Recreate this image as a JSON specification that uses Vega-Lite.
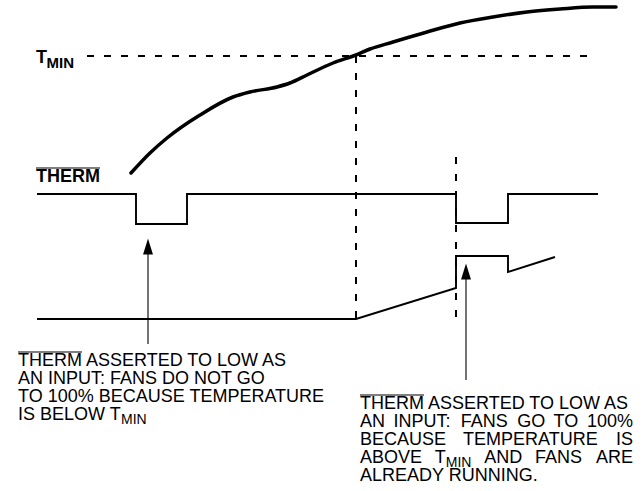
{
  "$schema": "https://vega.github.io/schema/vega-lite/v6.json",
  "width": 643,
  "height": 491,
  "autosize": {"type": "fit", "contains": "padding"},
  "padding": 0,
  "background": "white",
  "config": {"view": {"stroke": null}},
  "datasets": {
    "curve": [
      {"x": 131, "y": 173}, {"x": 150, "y": 153}, {"x": 167, "y": 138}, {"x": 200, "y": 115},
      {"x": 233, "y": 97}, {"x": 250, "y": 92}, {"x": 277, "y": 87}, {"x": 290, "y": 83},
      {"x": 307, "y": 75}, {"x": 333, "y": 63}, {"x": 356, "y": 55}, {"x": 370, "y": 49},
      {"x": 393, "y": 42}, {"x": 427, "y": 32}, {"x": 460, "y": 23}, {"x": 493, "y": 17},
      {"x": 527, "y": 12}, {"x": 560, "y": 9}, {"x": 593, "y": 7}, {"x": 616, "y": 7}
    ],
    "dashed": [
      {"x": 87, "y": 56, "x2": 597, "y2": 56},
      {"x": 356, "y": 56, "x2": 356, "y2": 319},
      {"x": 456, "y": 157, "x2": 456, "y2": 319}
    ],
    "signals": [
      {"s": "therm", "i": 0, "x": 37, "y": 194}, {"s": "therm", "i": 1, "x": 136, "y": 194},
      {"s": "therm", "i": 2, "x": 136, "y": 224}, {"s": "therm", "i": 3, "x": 187, "y": 224},
      {"s": "therm", "i": 4, "x": 187, "y": 194}, {"s": "therm", "i": 5, "x": 456, "y": 194},
      {"s": "therm", "i": 6, "x": 456, "y": 223}, {"s": "therm", "i": 7, "x": 508, "y": 223},
      {"s": "therm", "i": 8, "x": 508, "y": 194}, {"s": "therm", "i": 9, "x": 598, "y": 194},
      {"s": "fan", "i": 0, "x": 37, "y": 319}, {"s": "fan", "i": 1, "x": 356, "y": 319},
      {"s": "fan", "i": 2, "x": 456, "y": 288}, {"s": "fan", "i": 3, "x": 456, "y": 256},
      {"s": "fan", "i": 4, "x": 508, "y": 256}, {"s": "fan", "i": 5, "x": 508, "y": 272},
      {"s": "fan", "i": 6, "x": 555, "y": 257}
    ],
    "arrows": [
      {"x": 148, "y": 344, "y2": 254, "hy": 246.5},
      {"x": 466, "y": 380, "y2": 279, "hy": 271.5}
    ],
    "overlines": [
      {"x": 36, "x2": 100, "y": 168},
      {"x": 18, "x2": 82, "y": 352},
      {"x": 360, "x2": 424, "y": 395}
    ],
    "labels": [
      {"x": 36, "y": 63, "t": "T"},
      {"x": 36, "y": 182, "t": "THERM"}
    ],
    "labelSubs": [
      {"x": 46.5, "y": 68, "t": "MIN"}
    ],
    "body": [
      {"x": 18, "y": 366, "t": "THERM ASSERTED TO LOW AS"},
      {"x": 18, "y": 384, "t": "AN INPUT: FANS DO NOT GO"},
      {"x": 18, "y": 402, "t": "TO 100% BECAUSE TEMPERATURE"},
      {"x": 18, "y": 420, "t": "IS BELOW T"},
      {"x": 360, "y": 409, "t": "THERM ASSERTED TO LOW AS"},
      {"x": 360, "y": 427, "t": "AN"},
      {"x": 393.4, "y": 427, "t": "INPUT:"},
      {"x": 460.8, "y": 427, "t": "FANS"},
      {"x": 517.2, "y": 427, "t": "GO"},
      {"x": 553.6, "y": 427, "t": "TO"},
      {"x": 587, "y": 427, "t": "100%"},
      {"x": 360, "y": 445, "t": "BECAUSE"},
      {"x": 463, "y": 445, "t": "TEMPERATURE"},
      {"x": 616, "y": 445, "t": "IS"},
      {"x": 360, "y": 463, "t": "ABOVE"},
      {"x": 434.8, "y": 463, "t": "T"},
      {"x": 484.3, "y": 463, "t": "AND"},
      {"x": 535.1, "y": 463, "t": "FANS"},
      {"x": 595.9, "y": 463, "t": "ARE"},
      {"x": 360, "y": 481, "t": "ALREADY RUNNING."}
    ],
    "bodySubs": [
      {"x": 121, "y": 424, "t": "MIN"},
      {"x": 445.8, "y": 467, "t": "MIN"}
    ]
  },
  "encoding": {
    "x": {"field": "x", "type": "quantitative", "scale": {"domain": [0, 643], "nice": false, "zero": false}, "axis": null},
    "y": {"field": "y", "type": "quantitative", "scale": {"domain": [0, 491], "reverse": true, "nice": false, "zero": false}, "axis": null}
  },
  "layer": [
    {
      "data": {"name": "dashed"},
      "mark": {"type": "rule", "color": "black", "strokeWidth": 2, "strokeDash": [7, 10]},
      "encoding": {"x2": {"field": "x2"}, "y2": {"field": "y2"}}
    },
    {
      "data": {"name": "curve"},
      "mark": {"type": "line", "color": "black", "strokeWidth": 3.5, "strokeCap": "round", "interpolate": "monotone"},
      "encoding": {}
    },
    {
      "data": {"name": "signals"},
      "mark": {"type": "line", "color": "black", "strokeWidth": 1.9, "strokeJoin": "miter", "strokeCap": "butt"},
      "encoding": {"detail": {"field": "s"}, "order": {"field": "i", "type": "quantitative"}}
    },
    {
      "data": {"name": "arrows"},
      "mark": {"type": "rule", "color": "black", "strokeWidth": 1.1},
      "encoding": {"y2": {"field": "y2"}}
    },
    {
      "data": {"name": "arrows"},
      "mark": {"type": "point", "shape": "M0,-1L0.62,1L-0.62,1Z", "filled": true, "color": "black", "opacity": 1, "size": 256, "strokeWidth": 0},
      "encoding": {"y": {"field": "hy", "type": "quantitative"}}
    },
    {
      "data": {"name": "overlines"},
      "mark": {"type": "rule", "color": "black", "strokeWidth": 1.2},
      "encoding": {"x2": {"field": "x2"}}
    },
    {
      "data": {"name": "labels"},
      "mark": {"type": "text", "font": "Liberation Sans", "fontWeight": "bold", "fontSize": 18, "align": "left", "baseline": "alphabetic", "color": "black"},
      "encoding": {"text": {"field": "t"}}
    },
    {
      "data": {"name": "labelSubs"},
      "mark": {"type": "text", "font": "Liberation Sans", "fontWeight": "bold", "fontSize": 15, "align": "left", "baseline": "alphabetic", "color": "black"},
      "encoding": {"text": {"field": "t"}}
    },
    {
      "data": {"name": "body"},
      "mark": {"type": "text", "font": "Liberation Sans", "fontSize": 18, "align": "left", "baseline": "alphabetic", "color": "black"},
      "encoding": {"text": {"field": "t"}}
    },
    {
      "data": {"name": "bodySubs"},
      "mark": {"type": "text", "font": "Liberation Sans", "fontSize": 14, "align": "left", "baseline": "alphabetic", "color": "black"},
      "encoding": {"text": {"field": "t"}}
    }
  ]
}
